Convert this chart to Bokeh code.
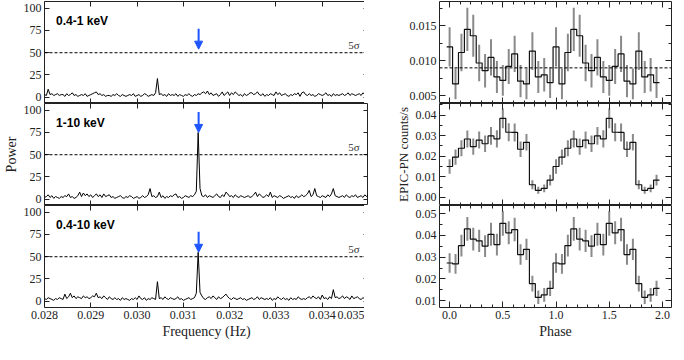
from bokeh.plotting import figure
from bokeh.layouts import row, column
from bokeh.models import LinearAxis, FixedTicker, Span, Label, Arrow, NormalHead
from bokeh.embed import file_html
from bokeh.resources import INLINE

SERIF = "Liberation Serif"
SANS = "Liberation Sans"
INK = "#222222"
BLUE = "#1f55ff"
ERR_GRAY = "#8a8a8a"

# ---------------- power spectra (left column) ----------------
freq_start = 0.028
freq_step = 0.00004

power_soft = [
    3, 2, 9, 3, 4, 2, 3, 4, 2, 3,
    3, 1, 4, 2, 3, 5, 2, 3, 1, 2,
    3, 2, 4, 1, 2, 3, 4, 5, 6, 3,
    4, 2, 3, 1, 2, 2, 1, 3, 2, 4,
    2, 1, 3, 2, 1, 2, 3, 2, 4, 1,
    2, 3, 1, 2, 4, 3, 1, 2, 3, 2,
    5, 21, 3, 4, 2, 3, 1, 4, 2, 3,
    2, 4, 1, 3, 2, 1, 3, 2, 4, 2,
    1, 3, 2, 4, 3, 5, 6, 4, 7, 3,
    5, 2, 3, 4, 1, 3, 6, 2, 4, 6,
    2, 5, 3, 6, 4, 2, 3, 1, 4, 2,
    3, 5, 5, 3, 4, 6, 3, 2, 4, 1,
    3, 2, 4, 3, 2, 6, 3, 5, 2, 3,
    4, 2, 1, 3, 2, 4, 3, 5, 1, 5,
    6, 3, 2, 4, 2, 3, 1, 2, 4, 3,
    2, 3, 5, 2, 3, 1, 4, 2, 3, 2,
    3, 4, 2, 3, 5, 2, 4, 3, 2, 3,
    4, 2, 5, 3, 2, 7,
]
power_hard = [
    2, 3, 5, 2, 4, 1, 3, 2, 1, 3,
    2, 4, 3, 6, 2, 3, 1, 2, 4, 8,
    3, 7, 4, 6, 3, 5, 2, 4, 6, 3,
    5, 2, 6, 3, 4, 5, 2, 3, 1, 2,
    3, 4, 2, 1, 3, 2, 4, 3, 1, 2,
    3, 1, 2, 4, 2, 3, 5, 12, 3, 4,
    2, 3, 8, 2, 4, 1, 3, 2, 4, 3,
    5, 6, 2, 3, 1, 2, 4, 3, 2, 4,
    3, 5, 9, 75, 12, 4, 3, 5, 2, 4,
    3, 2, 4, 6, 3, 2, 5, 3, 8, 6,
    3, 4, 2, 5, 3, 2, 4, 3, 2, 3,
    4, 2, 3, 5, 8, 3, 6, 4, 2, 3,
    5, 3, 8, 2, 4, 3, 2, 4, 3, 1,
    2, 3, 4, 2, 3, 1, 4, 2, 3, 5,
    3, 4, 6, 10, 3, 5, 12, 4, 3, 2,
    4, 3, 2, 5, 3, 6, 12, 4, 3, 2,
    3, 4, 2, 5, 3, 2, 4, 3, 5, 2,
    3, 4, 2, 5, 3, 6,
]
power_full = [
    3, 2, 4, 3, 2, 1, 3, 2, 4, 3,
    2, 8, 3, 5, 9, 4, 6, 3, 5, 4,
    3, 6, 4, 5, 3, 4, 6, 5, 9, 4,
    5, 3, 6, 4, 2, 5, 3, 2, 4, 2,
    3, 1, 4, 2, 3, 2, 1, 3, 2, 4,
    2, 6, 3, 2, 4, 1, 3, 2, 4, 3,
    2, 22, 3, 4, 2, 5, 3, 2, 4, 3,
    2, 3, 5, 2, 3, 1, 2, 3, 4, 2,
    3, 4, 9, 55, 10, 6, 3, 2, 4, 5,
    3, 6, 4, 2, 5, 3, 4, 6, 8, 5,
    3, 2, 4, 3, 2, 3, 4, 2, 3, 1,
    2, 3, 4, 2, 3, 5, 2, 4, 3, 2,
    3, 2, 4, 1, 3, 2, 5, 3, 2, 4,
    2, 3, 1, 4, 2, 3, 2, 5, 3, 2,
    3, 2, 4, 5, 3, 6, 4, 3, 5, 2,
    7, 3, 4, 2, 5, 3, 13, 4, 5, 3,
    4, 6, 3, 5, 4, 2, 6, 3, 4, 5,
    3, 2, 4, 3, 2, 5,
]
band_labels = ["0.4-1 keV", "1-10 keV", "0.4-10 keV"]
arrow_freq = 0.03133
arrow_tail = [77, 98, 78]
arrow_tip = [54, 75, 55]
threshold_5sigma = 50
freq_ticks = [0.028, 0.029, 0.030, 0.031, 0.032, 0.033, 0.034, 0.035]
freq_tick_labels = ["0.028", "0.029", "0.030", "0.031", "0.032", "0.033", "0.034", "0.035"]
power_ticks = [0, 25, 50, 75, 100]
power_tick_labels = ["0", "25", "50", "75", "100"]

# ---------------- folded light curves (right column) ----------------
phase_centers = [0.000, 0.0556, 0.1111, 0.1667, 0.2222, 0.2778, 0.3333, 0.3889, 0.4444,
                 0.5000, 0.5556, 0.6111, 0.6667, 0.7222, 0.7778, 0.8333, 0.8889, 0.9444]
phase_bin = 0.0556
rate_soft = [0.0120, 0.0067, 0.0112, 0.0145, 0.0136, 0.0097, 0.0086, 0.0105, 0.0077,
             0.0072, 0.0092, 0.0110, 0.0071, 0.0067, 0.0114, 0.0077, 0.0080, 0.0069]
err_soft = [0.0028, 0.0022, 0.0027, 0.0031, 0.0030, 0.0026, 0.0024, 0.0026, 0.0023,
            0.0022, 0.0025, 0.0026, 0.0023, 0.0022, 0.0027, 0.0023, 0.0024, 0.0022]
rate_hard = [0.0150, 0.0196, 0.0239, 0.0284, 0.0247, 0.0279, 0.0261, 0.0299, 0.0285,
             0.0385, 0.0317, 0.0316, 0.0234, 0.0268, 0.0061, 0.0034, 0.0043, 0.0084]
err_hard = [0.0035, 0.0037, 0.0039, 0.0042, 0.0040, 0.0041, 0.0040, 0.0043, 0.0042,
            0.0048, 0.0044, 0.0044, 0.0038, 0.0040, 0.0022, 0.0017, 0.0019, 0.0026]
rate_full = [0.0273, 0.0269, 0.0353, 0.0430, 0.0383, 0.0375, 0.0351, 0.0405, 0.0358,
             0.0456, 0.0412, 0.0427, 0.0312, 0.0336, 0.0178, 0.0115, 0.0126, 0.0156]
err_full = [0.0045, 0.0045, 0.0050, 0.0055, 0.0052, 0.0051, 0.0050, 0.0053, 0.0050,
            0.0057, 0.0053, 0.0054, 0.0047, 0.0049, 0.0036, 0.0031, 0.0032, 0.0035]
soft_mean = 0.009
phase_ticks = [0.0, 0.5, 1.0, 1.5, 2.0]
phase_tick_labels = ["0.0", "0.5", "1.0", "1.5", "2.0"]
phase_minor = [-0.1, 0.1, 0.2, 0.3, 0.4, 0.6, 0.7, 0.8, 0.9, 1.1, 1.2, 1.3, 1.4,
               1.6, 1.7, 1.8, 1.9, 2.1]
soft_ticks = [0.005, 0.010, 0.015]
soft_tick_labels = ["0.005", "0.010", "0.015"]
soft_minor = [0.0025, 0.0075, 0.0125, 0.0175]
hard_ticks = [0.00, 0.01, 0.02, 0.03, 0.04]
hard_tick_labels = ["0.00", "0.01", "0.02", "0.03", "0.04"]
hard_minor = [-0.005, 0.005, 0.015, 0.025, 0.035, 0.045]
full_ticks = [0.01, 0.02, 0.03, 0.04, 0.05]
full_tick_labels = ["0.01", "0.02", "0.03", "0.04", "0.05"]
full_minor = [0.005, 0.015, 0.025, 0.035, 0.045]

# ---------------- layout constants ----------------
FH = 102
TOP_B = 1
BOT_B = 36
L_BORDER = 40
L_FW = 324
R_BORDER = 71
R_FW = 232


def make_fig(xr, yr, pos, left_b, fw, right_b):
    p = figure(frame_width=fw, frame_height=FH, x_range=xr, y_range=yr,
               x_axis_type=None, y_axis_type=None, toolbar_location=None,
               output_backend="svg",
               min_border_left=left_b, min_border_right=right_b,
               min_border_top=TOP_B if pos == 0 else 0,
               min_border_bottom=BOT_B if pos == 2 else 0)
    p.outline_line_color = INK
    p.outline_line_width = 1
    p.outline_line_alpha = 1.0
    p.background_fill_color = "white"
    p.border_fill_color = "white"
    return p


def style_axis(ax, labels, overrides, major_len, minor_len):
    ax.axis_line_color = None
    ax.major_tick_in = major_len
    ax.major_tick_out = 0
    ax.minor_tick_in = minor_len
    ax.minor_tick_out = 0
    ax.major_tick_line_color = INK
    ax.minor_tick_line_color = INK
    if labels:
        ax.major_label_overrides = overrides
        ax.major_label_text_font = SERIF
        ax.major_label_text_font_size = "12px"
        ax.major_label_text_color = INK
        ax.major_label_standoff = 3
    else:
        ax.major_label_text_color = None
        ax.major_label_standoff = 0
    ax.axis_label_text_font = SERIF
    ax.axis_label_text_font_size = "14px"
    ax.axis_label_text_font_style = "normal"
    ax.axis_label_text_color = INK
    ax.axis_label_standoff = 2


def add_axes(p, xt, xminor, xlab, yt, yminor, ylab, show_x, xlabel=None, ylabel=None,
             major_len=5, minor_len=3, ylabel_size="14px"):
    xo = {float(t): s for t, s in zip(xt, xlab)}
    yo = {float(t): s for t, s in zip(yt, ylab)}
    for place in ["below", "above"]:
        ax = LinearAxis(ticker=FixedTicker(ticks=xt, minor_ticks=xminor))
        style_axis(ax, place == "below" and show_x, xo, major_len, minor_len)
        if place == "below" and xlabel:
            ax.axis_label = xlabel
        p.add_layout(ax, place)
    for place in ["left", "right"]:
        ax = LinearAxis(ticker=FixedTicker(ticks=yt, minor_ticks=yminor))
        style_axis(ax, place == "left", yo, major_len, minor_len)
        if place == "left" and ylabel:
            ax.axis_label = ylabel
            ax.axis_label_text_font_size = ylabel_size
        p.add_layout(ax, place)


# ---------------- left column ----------------
powers = [power_soft, power_hard, power_full]
left_figs = []
for i, pw in enumerate(powers):
    p = make_fig((0.028, 0.035), (-7, 107.5), i, L_BORDER, L_FW, 0)
    freqs = [freq_start + freq_step * k for k in range(len(pw))]
    p.line(freqs, pw, line_color="black", line_width=1)
    p.add_layout(Span(location=threshold_5sigma, dimension="width", line_color="black",
                      line_width=1, line_dash="3 2"))
    p.add_layout(Label(x=0.03481, y=threshold_5sigma + 1.5, text="5σ", text_align="right",
                       text_baseline="bottom", text_font=SERIF, text_font_size="11px",
                       text_color="#333333"))
    p.add_layout(Label(x=0.02825, y=86, text=band_labels[i], text_font=SANS,
                       text_font_style="bold", text_font_size="12px",
                       text_baseline="middle", text_color="black"))
    p.add_layout(Arrow(end=NormalHead(size=8, fill_color=BLUE, line_color=BLUE),
                       x_start=arrow_freq, y_start=arrow_tail[i],
                       x_end=arrow_freq, y_end=arrow_tip[i],
                       line_color=BLUE, line_width=2))
    add_axes(p, freq_ticks, [], freq_tick_labels, power_ticks, [], power_tick_labels,
             show_x=(i == 2), xlabel="Frequency (Hz)" if i == 2 else None,
             ylabel="Power" if i == 1 else None)
    left_figs.append(p)

# ---------------- right column ----------------
rates = [rate_soft, rate_hard, rate_full]
errs = [err_soft, err_hard, err_full]
yranges = [(0.0039, 0.0185), (-0.004, 0.0457), (0.0068, 0.0538)]
yticks = [soft_ticks, hard_ticks, full_ticks]
ylabs = [soft_tick_labels, hard_tick_labels, full_tick_labels]
yminors = [soft_minor, hard_minor, full_minor]
right_figs = []
for i in range(3):
    p = make_fig((-0.095, 2.085), yranges[i], i, R_BORDER, R_FW, 1)
    ph = phase_centers + [c + 1.0 for c in phase_centers]
    rt = rates[i] + rates[i]
    er = errs[i] + errs[i]
    p.segment(x0=ph, y0=[r - e for r, e in zip(rt, er)], x1=ph,
              y1=[r + e for r, e in zip(rt, er)], line_color=ERR_GRAY, line_width=2)
    edges = [c - phase_bin / 2 for c in ph] + [ph[-1] + phase_bin / 2]
    p.step(edges, rt + [rt[-1]], mode="after", line_color="#111111", line_width=1.2)
    if i == 0:
        p.add_layout(Span(location=soft_mean, dimension="width", line_color="black",
                          line_width=1, line_dash="3 2"))
    add_axes(p, phase_ticks, phase_minor, phase_tick_labels, yticks[i], yminors[i], ylabs[i],
             show_x=(i == 2), xlabel="Phase" if i == 2 else None,
             ylabel="EPIC-PN counts/s" if i == 1 else None, major_len=6, minor_len=3,
             ylabel_size="13px")
    right_figs.append(p)

layout = row(column(*left_figs, spacing=0), column(*right_figs, spacing=0), spacing=0)

open("out.html", "w").write(file_html(layout, INLINE))
